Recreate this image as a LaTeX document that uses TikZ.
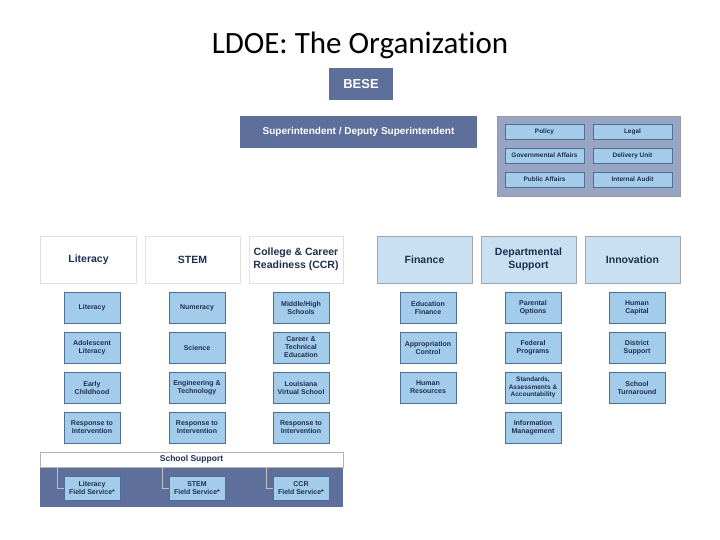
\documentclass[tikz,border=0pt]{standalone}
\usepackage{fontspec}
\setmainfont{Liberation Sans}
\newfontfamily\titlefont[Ligatures={NoCommon}]{Carlito}
\definecolor{dk}{HTML}{5E6F9C}
\definecolor{subf}{HTML}{A3CBEA}
\definecolor{subd}{HTML}{4F6E96}
\definecolor{hdf}{HTML}{C9DFF2}
\definecolor{pnl}{HTML}{98A4C3}
\definecolor{txt}{HTML}{1E2F4F}
\begin{document}
\begin{tikzpicture}[x=1pt,y=-1pt,
  sub/.style={draw=subd,fill=subf,line width=0.6pt,minimum width=56pt,minimum height=31pt,inner sep=1pt,align=center,font=\fontsize{7}{8}\selectfont\bfseries,text=txt},
  staff/.style={draw=subd,fill=subf,minimum width=79pt,minimum height=15pt,inner sep=0pt,font=\fontsize{6.5}{7}\selectfont\bfseries,text=txt},
  whead/.style={draw=black!12,fill=white,minimum width=96pt,minimum height=47pt,align=center,font=\fontsize{10.5}{12.5}\selectfont\bfseries,text=txt},
  bhead/.style={draw=black!35,fill=hdf,minimum width=95pt,minimum height=47pt,align=center,font=\fontsize{10.5}{12.5}\selectfont\bfseries,text=txt},
  fld/.style={draw=subd,fill=subf,minimum width=56pt,minimum height=24pt,inner sep=1pt,align=center,font=\fontsize{7}{8}\selectfont\bfseries,text=txt},
  lnk/.style={draw=black!25,line width=0.8pt}]
\useasboundingbox (0,0) rectangle (720,540);
\fill[white] (0,0) rectangle (720,540);
\node[font=\titlefont\fontsize{31}{34}\selectfont] (title) at (360,45) {LDOE: The Organization};
\node[fill=dk,text=white,minimum width=64pt,minimum height=32pt,font=\fontsize{13}{15}\selectfont\bfseries] (bese) at (361,84) {BESE};
\node[fill=dk,text=white,minimum width=237pt,minimum height=32pt,font=\fontsize{10}{12}\selectfont\bfseries] (sup) at (358.5,132) {Superintendent / Deputy Superintendent};
\node[draw=black!40,fill=pnl,minimum width=183pt,minimum height=80pt] (panel) at (588.5,156) {};
\node[staff] (policy) at (544.5,131.5) {Policy};
\node[staff] (legal) at (632.5,131.5) {Legal};
\node[staff] (gov) at (544.5,155.5) {Governmental Affairs};
\node[staff] (deliv) at (632.5,155.5) {Delivery Unit};
\node[staff] (pub) at (544.5,179.5) {Public Affairs};
\node[staff] (audit) at (632.5,179.5) {Internal Audit};
% headers
\node[whead] (hlit) at (88.5,259.5) {Literacy};
\node[whead,minimum width=95pt] (hstem) at (192.5,259.5) {STEM};
\node[whead,minimum width=94pt] (hccr) at (296,259.5) {College \& Career\\Readiness (CCR)};
\node[bhead] (hfin) at (424.5,259.5) {Finance};
\node[bhead] (hdep) at (528.5,259.5) {Departmental\\Support};
\node[bhead] (hinn) at (632.5,259.5) {Innovation};
% columns
\node[sub] (l1) at (92,307.5) {Literacy};
\node[sub] (l2) at (92,347.5) {Adolescent\\Literacy};
\node[sub] (l3) at (92,387.5) {Early\\Childhood};
\node[sub] (l4) at (92,427.5) {Response to\\Intervention};
\node[sub] (s1) at (197,307.5) {Numeracy};
\node[sub] (s2) at (197,347.5) {Science};
\node[sub] (s3) at (197,387.5) {Engineering \&\\Technology};
\node[sub] (s4) at (197,427.5) {Response to\\Intervention};
\node[sub] (c1) at (301,307.5) {Middle/High\\Schools};
\node[sub] (c2) at (301,347.5) {Career \&\\Technical\\Education};
\node[sub] (c3) at (301,387.5) {Louisiana\\Virtual School};
\node[sub] (c4) at (301,427.5) {Response to\\Intervention};
\node[sub] (f1) at (428,307.5) {Education\\Finance};
\node[sub] (f2) at (428,347.5) {Appropriation\\Control};
\node[sub] (f3) at (428,387.5) {Human\\Resources};
\node[sub] (d1) at (533,307.5) {Parental\\Options};
\node[sub] (d2) at (533,347.5) {Federal\\Programs};
\node[sub,font=\fontsize{6.5}{7.2}\selectfont\bfseries] (d3) at (533,387.5) {Standards,\\Assessments \&\\Accountability};
\node[sub] (d4) at (533,427.5) {Information\\Management};
\node[sub] (i1) at (637,307.5) {Human\\Capital};
\node[sub] (i2) at (637,347.5) {District\\Support};
\node[sub] (i3) at (637,387.5) {School\\Turnaround};
% school support
\node[fill=dk,minimum width=303pt,minimum height=40pt,inner sep=0pt] (band) at (191.5,486.5) {};
\node[draw=black!30,fill=white,minimum width=303pt,minimum height=15pt,inner sep=0pt,font=\fontsize{8.5}{9}\selectfont\bfseries,text=txt] (ss) at (191.5,459.5) {School Support};
\node[fld] (lf) at (92,488) {Literacy\\Field Service*};
\node[fld] (sf) at (197,488) {STEM\\Field Service*};
\node[fld] (cf) at (301,488) {CCR\\Field Service*};
\coordinate (a1) at (57,467);
\coordinate (a2) at (162,467);
\coordinate (a3) at (266,467);
\draw[lnk] (a1) |- (lf.west);
\draw[lnk] (a2) |- (sf.west);
\draw[lnk] (a3) |- (cf.west);
\end{tikzpicture}
\end{document}
